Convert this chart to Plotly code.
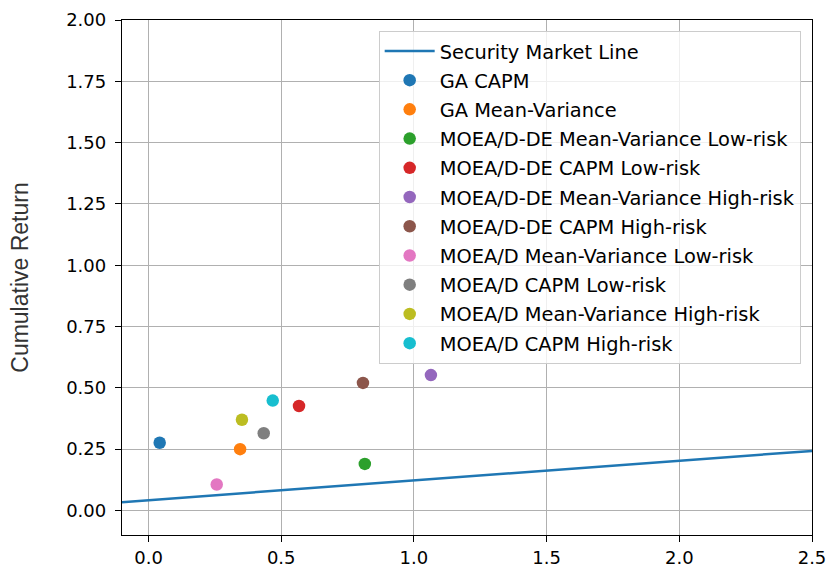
import plotly.graph_objects as go

# Security Market Line
sml_beta = [-0.1, 2.5]
sml_return = [0.034, 0.243]

# Portfolios
names = [
    "GA CAPM",
    "GA Mean-Variance",
    "MOEA/D-DE Mean-Variance Low-risk",
    "MOEA/D-DE CAPM Low-risk",
    "MOEA/D-DE Mean-Variance High-risk",
    "MOEA/D-DE CAPM High-risk",
    "MOEA/D Mean-Variance Low-risk",
    "MOEA/D CAPM Low-risk",
    "MOEA/D Mean-Variance High-risk",
    "MOEA/D CAPM High-risk",
]
beta = [0.042, 0.345, 0.815, 0.567, 1.064, 0.808, 0.257, 0.434, 0.352, 0.468]
cum_return = [0.276, 0.250, 0.190, 0.426, 0.552, 0.520, 0.106, 0.315, 0.370, 0.448]
colors = ["#1f77b4", "#ff7f0e", "#2ca02c", "#d62728", "#9467bd",
          "#8c564b", "#e377c2", "#7f7f7f", "#bcbd22", "#17becf"]

x_ticks = [0.0, 0.5, 1.0, 1.5, 2.0, 2.5]
y_ticks = [0.0, 0.25, 0.5, 0.75, 1.0, 1.25, 1.5, 1.75, 2.0]

fig = go.Figure()
fig.add_trace(go.Scatter(
    x=sml_beta, y=sml_return, mode="lines", name="Security Market Line",
    line=dict(color="#1f77b4", width=2.5), legendgroup="g0",
))
for i, (n, bx, ry, c) in enumerate(zip(names, beta, cum_return, colors)):
    fig.add_trace(go.Scatter(
        x=[bx], y=[ry], mode="markers", name=n,
        marker=dict(color=c, size=12.5), legendgroup=f"g{i+1}",
    ))

axis_common = dict(
    showline=True, linecolor="black", linewidth=1.3, mirror=True,
    ticks="outside", ticklen=6, tickcolor="black", tickwidth=1.3,
    showgrid=True, gridcolor="#b0b0b0", gridwidth=1, zeroline=False,
    tickfont=dict(family="DejaVu Sans", size=18, color="black"),
    automargin=False,
)

fig.update_layout(
    width=829, height=568,
    margin=dict(l=122, r=17, t=20, b=33),
    plot_bgcolor="white", paper_bgcolor="white",
    xaxis=dict(range=[-0.1, 2.5], tickvals=x_ticks, tickformat=".1f", **axis_common),
    yaxis=dict(range=[-0.1, 2.0], tickvals=y_ticks, tickformat=".2f",
               ticklabelstandoff=5,
               title=dict(text="Cumulative Return", standoff=31,
                          font=dict(family="Liberation Sans", size=23, color="#333")),
               **axis_common),
    legend=dict(
        x=0.372, y=0.979, xanchor="left", yanchor="top",
        bgcolor="rgba(255,255,255,0.8)", bordercolor="#cccccc", borderwidth=1,
        font=dict(family="DejaVu Sans", size=19.4, color="black"),
        tracegroupgap=1, traceorder="grouped", itemwidth=50,
    ),
)

fig.write_html("out.html")
